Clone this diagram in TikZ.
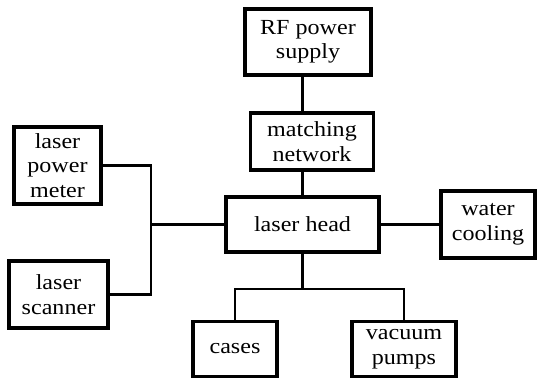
\documentclass[tikz,border=0pt]{standalone}
\usepackage{fontspec}
\setmainfont{Liberation Serif}[FakeStretch=1.12]
\usetikzlibrary{positioning}

\begin{document}
\begin{tikzpicture}[
  x=1pt, y=-1pt,
  unit/.style={rectangle, draw, line width=3.2pt, inner sep=0pt, align=center,
               font=\fontsize{21.5}{24.5}\selectfont},
  link/.style={line width=2.3pt}
]
  \useasboundingbox (0,0) rectangle (538,380);
  \node[unit, minimum width=126pt, minimum height=66pt] (rf) at (308,42) {RF power\\supply};
  \node[unit, minimum width=123pt, minimum height=57pt] (match) at (312,141.5) {matching\\network};
  \node[unit, minimum width=153pt, minimum height=55pt] (head) at (302.5,224.5) {laser head};
  \node[unit, minimum width=87pt, minimum height=77pt] (meter) at (57.5,165.5) {laser\\power\\meter};
  \node[unit, minimum width=99pt, minimum height=67pt] (scanner) at (58.5,294.5) {laser\\scanner};
  \node[unit, minimum width=94pt, minimum height=67pt] (water) at (488,224.5) {water\\cooling};
  \node[unit, minimum width=84pt, minimum height=55pt] (cases) at (235,349) {cases};
  \node[unit, minimum width=104pt, minimum height=55pt] (vacuum) at (404,349) {vacuum\\pumps};
  \coordinate (lbus) at (151,224.5);
  \coordinate (dbus) at (302.5,289);
  \draw[link] (head.north |- rf.south) -- (head.north |- match.north);
  \draw[link] (head.north |- match.south) -- (head.north);
  \draw[link] (meter.east) -| (lbus) |- (scanner.east);
  \draw[link] (lbus) -- (head.west);
  \draw[link] (head.east) -- (water.west);
  \draw[link] (head.south) -- (dbus);
  \draw[link] (cases.north) |- (dbus) -| (vacuum.north);
\end{tikzpicture}
\end{document}
